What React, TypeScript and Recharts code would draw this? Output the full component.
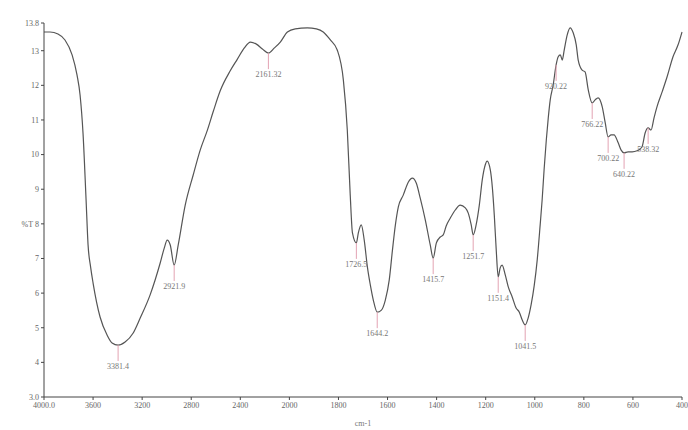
import React from "react";
import { ComposedChart, Line, Scatter, XAxis, YAxis, Label } from "recharts";

// Wavenumbers (cm-1) and %T
const wavenumbers = [
  4000, 3951, 3886, 3829, 3771, 3731, 3706, 3682, 3657, 3641, 3620, 3600, 3543, 3486, 3445, 3396, 3339, 3273, 3216,
  3135, 3053, 3020, 2996, 2971, 2939, 2906, 2849, 2784, 2727, 2669, 2620, 2563, 2482, 2425, 2367, 2318, 2269,
  2220, 2171, 2122, 2074, 2016, 1976, 1927, 1890, 1862, 1833, 1805, 1780, 1764, 1752, 1743, 1727, 1719, 1707,
  1695, 1682, 1670, 1658, 1642, 1625, 1609, 1593, 1580, 1568, 1556, 1536, 1515, 1499, 1483, 1467, 1446, 1426,
  1414, 1401, 1385, 1373, 1361, 1344, 1324, 1304, 1283, 1271, 1259, 1251, 1239, 1226, 1214, 1202, 1194, 1181,
  1173, 1165, 1157, 1149, 1141, 1133, 1120, 1108, 1092, 1076, 1063, 1051, 1039, 1027, 1015, 1002, 990, 978,
  970, 962, 953, 945, 937, 925, 913, 905, 896, 888, 880, 868, 856, 843, 831, 823, 807, 795, 782, 766, 754, 742,
  725, 713, 701, 689, 677, 660, 648, 636, 620, 603, 583, 563, 550, 538, 526, 514, 502, 481, 461, 437, 416, 400,
];
const transmittance = [
  13.54, 13.54, 13.48, 13.31, 12.88, 12.3, 11.72, 10.62, 8.69, 7.4, 6.75, 6.29, 5.31, 4.79, 4.56, 4.5, 4.59, 4.85, 5.28,
  5.95, 6.87, 7.3, 7.53, 7.39, 6.81, 7.39, 8.54, 9.41, 10.13, 10.7, 11.25, 11.85, 12.42, 12.75, 13.08, 13.25, 13.19,
  13.05, 12.93, 13.08, 13.25, 13.54, 13.63, 13.66, 13.63, 13.54, 13.31, 13.02, 12.15, 10.71, 8.83, 7.74, 7.45, 7.74, 7.97,
  7.53, 6.75, 6.23, 5.8, 5.45, 5.51, 5.8, 6.38, 7.24, 7.97, 8.49, 8.83, 9.21, 9.32, 9.18, 8.75, 8.11, 7.39,
  7.01, 7.45, 7.62, 7.68, 7.94, 8.17, 8.4, 8.54, 8.46, 8.31, 7.97, 7.68, 7.97, 8.54, 9.27, 9.7, 9.81, 9.55,
  9.06, 8.26, 7.24, 6.47, 6.73, 6.81, 6.52, 6.18, 5.89, 5.57, 5.45, 5.22, 5.08, 5.28, 5.66, 6.23, 6.96, 7.97,
  8.69, 9.56, 10.42, 11.06, 11.58, 12.01, 12.59, 12.82, 12.88, 12.73, 13.02, 13.45, 13.66, 13.51, 13.17, 12.73, 12.44, 12.39, 11.87, 11.49, 11.58, 11.64,
  11.38, 10.92, 10.51, 10.57, 10.57, 10.34, 10.13, 10.05, 10.08, 10.08, 10.11, 10.22, 10.63, 10.77, 10.71, 11.06, 11.38, 11.81, 12.24, 12.82, 13.17, 13.54,
];

// Peak annotations
const peakWaves = [3396, 2939, 2171, 1727, 1642, 1414, 1251, 1149, 1039, 913, 766, 701, 636, 538];
const peakValues = [4.5, 6.81, 12.93, 7.45, 5.45, 7.01, 7.68, 6.47, 5.08, 12.59, 11.49, 10.51, 10.05, 10.77];
const peakLabels = ["3381.4", "2921.9", "2161.32", "1726.5", "1644.2", "1415.7", "1251.7", "1151.4", "1041.5", "920.22", "766.22", "700.22", "640.22", "538.32"];

// Axis ticks
const xTickWaves = [4000, 3600, 3200, 2800, 2400, 2000, 1800, 1600, 1400, 1200, 1000, 800, 600, 400];
const xTickLabels = ["4000.0", "3600", "3200", "2800", "2400", "2000", "1800", "1600", "1400", "1200", "1000", "800", "600", "400"];
const yTicks = [3, 4, 5, 6, 7, 8, 9, 10, 11, 12, 13, 13.8];
const yTickLabels = ["3.0", "4", "5", "6", "7", "%T 8", "9", "10", "11", "12", "13", "13.8"];

// instrument-style split axis: 4000-2000 compressed 2x relative to 2000-400
const toPos = (w: number) => (w >= 2000 ? (4000 - w) / 2 : 1000 + (2000 - w));

const spectrum = wavenumbers.map((w, i) => ({ pos: toPos(w), t: transmittance[i] }));
const peaks = peakWaves.map((w, i) => ({ pos: toPos(w), t: peakValues[i], label: peakLabels[i] }));
const xTicks = xTickWaves.map(toPos);

const tickStyle = { fill: "#666", fontSize: 8, fontFamily: "Liberation Serif" };

const PeakMark = (props: any) => {
  const { cx, cy, payload } = props;
  if (cx == null || cy == null) return null;
  return (
    <g>
      <line x1={cx} y1={cy} x2={cx} y2={cy + 16} stroke="#e3a3b3" strokeWidth={1} />
      <text
        x={cx}
        y={cy + 24}
        textAnchor="middle"
        fontSize={8}
        fontFamily="Liberation Serif"
        fill="#777"
      >
        {payload.label}
      </text>
    </g>
  );
};

export default function App() {
  return (
    <div style={{ position: "absolute", left: 0, top: 0, background: "#fff" }}>
      <ComposedChart
        width={688}
        height={430}
        data={spectrum}
        margin={{ top: 23, right: 6, bottom: 0, left: 0 }}
      >
        <XAxis
          type="number"
          dataKey="pos"
          domain={[0, 2600]}
          ticks={xTicks}
          tickFormatter={(v: number) => xTickLabels[xTicks.indexOf(v)] ?? ""}
          tick={tickStyle}
          tickSize={3}
          height={33}
          stroke="#444"
          interval={0}
        >
          <Label
            value="cm-1"
            position="insideBottom"
            offset={4}
            style={{ fill: "#777", fontSize: 8, fontFamily: "Liberation Serif" }}
          />
        </XAxis>
        <YAxis
          type="number"
          dataKey="t"
          domain={[3, 13.8]}
          ticks={yTicks}
          tickFormatter={(v: number) => yTickLabels[yTicks.indexOf(v)] ?? ""}
          tick={tickStyle}
          tickSize={3}
          width={44}
          stroke="#444"
          interval={0}
        />
        <Line
          type="monotone"
          dataKey="t"
          stroke="#555"
          strokeWidth={1.2}
          dot={false}
          isAnimationActive={false}
        />
        <Scatter data={peaks} dataKey="t" shape={<PeakMark />} isAnimationActive={false} />
      </ComposedChart>
    </div>
  );
}
